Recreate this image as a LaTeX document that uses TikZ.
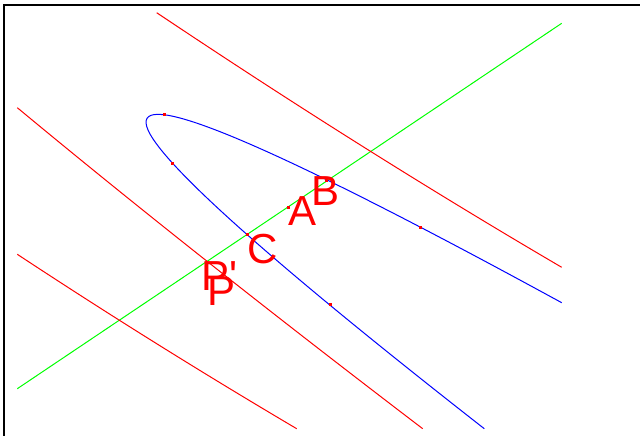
\documentclass[tikz,border=0pt]{standalone}
\usepackage{fontspec}
\setmainfont{Liberation Sans}
\begin{document}
\begin{tikzpicture}[x=1pt,y=-1pt,
  frame/.style={line width=2pt,black},
  curveline/.style={line width=1pt},
  dotmark/.style={fill=red,draw=none,minimum size=3pt,inner sep=0pt,rectangle},
  lbl/.style={text=red,anchor=base west,inner sep=0pt,font=\fontsize{42}{42}\selectfont}]
\useasboundingbox (0,0) rectangle (640,436);
\fill[white] (0,0) rectangle (640,436);
% frame
\draw[frame] (3.5,437) -- (3.5,5) -- (641,5);
% green line
\coordinate (g1) at (17.3,388.7);
\coordinate (g2) at (561.7,23.3);
\draw[curveline,green] (g1) -- (g2);
% red curves
\coordinate (r1a) at (156.7,12.7);
\coordinate (r1b) at (561.7,267.3);
\draw[curveline,red] (r1a) .. controls (296.7,106.4) and (431.7,191.2) .. (r1b);
\coordinate (r2a) at (17.3,107.7);
\coordinate (r2b) at (422.7,428.7);
\draw[curveline,red] (r2a) .. controls (134.7,205.1) and (269.8,312.1) .. (r2b);
\coordinate (r3a) at (17.3,254.3);
\coordinate (r3b) at (296.7,428.7);
\draw[curveline,red] (r3a) .. controls (109.1,314.8) and (202.2,372.9) .. (r3b);
% blue parabola
\coordinate (b1) at (561.7,302.7);
\coordinate (b2) at (484.3,428.7);
\draw[curveline,blue] (b1) .. controls (34.6,14.9) and (8.8,56.9) .. (b2);
% points
\node[dotmark] (d1) at (164.3,114) {};
\node[dotmark] (d2) at (172.3,163.3) {};
\node[dotmark] (dC) at (247.7,234.3) {};
\node[dotmark] (dA) at (288.3,207.3) {};
\node[dotmark] (dB) at (326.7,180) {};
\node[dotmark] (d3) at (330,304) {};
\node[dotmark] (d4) at (420.3,227.3) {};
% labels
\node[lbl] (lA) at (288,225) {A};
\node[lbl] (lB) at (311.2,205) {B};
\node[lbl] (lC) at (247.2,263.3) {C};
\node[lbl] (lPp) at (201.1,290) {P\textquotesingle};
\node[lbl] (lP) at (207.5,305.5) {P};
\end{tikzpicture}
\end{document}
